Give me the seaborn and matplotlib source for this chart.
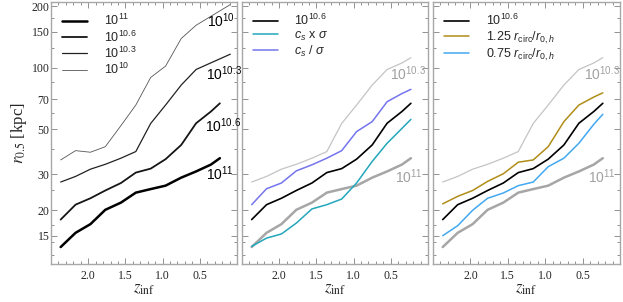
import matplotlib
matplotlib.use('Agg')
import matplotlib.pyplot as plt
import seaborn as sns
from matplotlib.ticker import FixedLocator, NullFormatter, FixedFormatter, MultipleLocator

# redshift of infall (snapshots) and radii r_0.5 [kpc]
z = [2.37, 2.17, 1.97, 1.77, 1.56, 1.36, 1.16, 0.96, 0.75, 0.55, 0.35, 0.23]
z_low = [2.37, 2.17, 1.97, 1.77, 1.56, 1.36, 1.16, 0.96, 0.75, 0.55, 0.09]

r_11 = [13.2, 15.5, 17.1, 20.1, 21.8, 24.4, 25.4, 26.4, 28.9, 31.0, 33.5, 36.0]
r_106 = [18.0, 21.3, 22.9, 25.0, 27.2, 30.6, 32.0, 35.6, 41.8, 53.4, 61.0, 66.9]
r_103 = [27.5, 29.3, 31.8, 33.6, 36.0, 38.8, 53.3, 65.6, 82.2, 98.0, 105.5, 112.0]
r_103_low = [27.5, 29.3, 31.8, 33.6, 36.0, 38.8, 53.3, 65.6, 82.2, 98.0, 116.5]
r_10_low = [35.3, 39.2, 38.5, 41.0, 52.0, 65.6, 89.6, 101.8, 139.0, 161.5, 204.0]

r_cs_x = [13.3, 14.6, 15.3, 17.3, 20.3, 21.3, 22.7, 27.2, 34.7, 42.6, 50.4, 55.8]
r_cs_div = [21.3, 25.5, 27.2, 31.2, 33.4, 36.0, 39.2, 48.6, 54.4, 68.1, 74.7, 78.3]
r_125 = [21.5, 23.4, 25.0, 27.7, 30.2, 34.4, 35.3, 41.0, 54.4, 65.6, 71.8, 75.3]
r_075 = [15.0, 16.8, 20.0, 22.9, 24.3, 26.4, 27.5, 32.7, 36.0, 42.6, 52.8, 59.1]

x_ticks = [2.0, 1.5, 1.0, 0.5]
x_labels = ['2.0', '1.5', '1.0', '0.5']
y_ticks = [15, 20, 30, 50, 70, 100, 150, 200]
y_labels = ['15', '20', '30', '50', '70', '100', '150', '200']
y_minor = [12, 14, 17, 25, 40, 60, 85, 125, 175]

sns.set_style("ticks")
plt.rcParams['font.family'] = ['Liberation Sans', 'DejaVu Sans']
plt.rcParams['mathtext.fontset'] = 'custom'
plt.rcParams['mathtext.rm'] = 'Liberation Sans'
plt.rcParams['mathtext.it'] = 'Liberation Sans:italic'
plt.rcParams['mathtext.bf'] = 'Liberation Sans:bold'

SPINE = '#a8a8a8'


def style_axis(ax, show_ylabels):
    ax.set_yscale('log')
    ax.set_xlim(2.5, 0.0)
    ax.set_ylim(10.9, 210)
    ax.xaxis.set_major_locator(FixedLocator(x_ticks))
    ax.xaxis.set_major_formatter(FixedFormatter(x_labels))
    ax.xaxis.set_minor_locator(MultipleLocator(0.1))
    ax.yaxis.set_major_locator(FixedLocator(y_ticks))
    ax.yaxis.set_minor_locator(FixedLocator(y_minor))
    ax.yaxis.set_minor_formatter(NullFormatter())
    if show_ylabels:
        ax.yaxis.set_major_formatter(FixedFormatter(y_labels))
    else:
        ax.yaxis.set_major_formatter(NullFormatter())
    ax.tick_params(which='both', direction='in', top=True, right=True,
                   color='#808080', width=0.6)
    ax.tick_params(which='major', length=4)
    ax.tick_params(which='minor', length=2)
    ax.tick_params(axis='x', pad=4)
    ax.tick_params(axis='y', pad=1)
    for lab in ax.get_xticklabels() + ax.get_yticklabels():
        lab.set_fontfamily('Liberation Serif')
        lab.set_fontsize(8.5)
    for sp in ax.spines.values():
        sp.set_color(SPINE)
        sp.set_linewidth(1.0)
    ax.set_xlabel(r'$z_{\rm inf}$', fontsize=12, math_fontfamily='stix', labelpad=0)
    ax.set_ylabel('')


def line(ax, x, y, color, lw):
    sns.lineplot(x=x, y=y, ax=ax, color=color, linewidth=lw, sort=False)
    return ax.lines[-1]


leg_kw = dict(loc='upper left', frameon=False, fontsize=9, handlelength=2.0,
              handletextpad=1.3, labelspacing=0.08, borderaxespad=0.5)
lab_kw = dict(fontsize=10, ha='left', va='baseline')

fig = plt.figure(figsize=(6.23, 3.02), dpi=100)
W, H = 623.0, 302.0
ax1 = fig.add_axes([51 / W, 38 / H, 186 / W, 262 / H])
ax2 = fig.add_axes([242 / W, 38 / H, 186 / W, 262 / H])
ax3 = fig.add_axes([433 / W, 38 / H, 187 / W, 262 / H])

# panel 1: halo mass bins
h1 = line(ax1, z, r_11, '#000000', 1.8)
h2 = line(ax1, z, r_106, '#151515', 1.3)
h3 = line(ax1, z_low, r_103_low, '#222222', 0.9)
h4 = line(ax1, z_low, r_10_low, '#555555', 0.6)
ax1.legend([h1, h2, h3, h4], [r'$10^{11}$', r'$10^{10.6}$', r'$10^{10.3}$', r'$10^{10}$'],
           **leg_kw)
ax1.text(0.40, 158, r'$10^{10}$', color='black', **lab_kw)
ax1.text(0.41, 86.9, r'$10^{10.3}$', color='black', **lab_kw)
ax1.text(0.43, 48.4, r'$10^{10.6}$', color='black', **lab_kw)
ax1.text(0.41, 28.2, r'$10^{11}$', color='black', **lab_kw)
style_axis(ax1, True)
ax1.set_ylabel(r'$r_{0.5}$ [kpc]', fontsize=12, fontfamily='Liberation Serif',
               math_fontfamily='stix', labelpad=2)

# panel 2: sound speed variations
line(ax2, z, r_103, '#c4c4c4', 0.9)
line(ax2, z, r_11, '#a6a6a6', 1.8)
g1 = line(ax2, z, r_106, '#000000', 1.2)
g2 = line(ax2, z, r_cs_x, '#22a7bb', 1.1)
g3 = line(ax2, z, r_cs_div, '#7474ee', 1.1)
ax2.legend([g1, g2, g3], [r'$10^{10.6}$', r'$c_s$ x $\sigma$', r'$c_s$ / $\sigma$'],
           **leg_kw)
ax2.text(0.51, 86.9, r'$10^{10.3}$', color='#a0a0a0', **lab_kw)
ax2.text(0.44, 27.3, r'$10^{11}$', color='#a0a0a0', **lab_kw)
style_axis(ax2, False)

# panel 3: circularisation radius variations
line(ax3, z, r_103, '#c4c4c4', 0.9)
line(ax3, z, r_11, '#a6a6a6', 1.8)
k1 = line(ax3, z, r_106, '#000000', 1.2)
k2 = line(ax3, z, r_125, '#b08d18', 1.1)
k3 = line(ax3, z, r_075, '#42a8f0', 1.1)
ax3.legend([k1, k2, k3], [r'$10^{10.6}$', r'1.25 $r_{\rm circ}/r_{0,h}$',
                          r'0.75 $r_{\rm circ}/r_{0,h}$'], **leg_kw)
ax3.text(0.48, 86.9, r'$10^{10.3}$', color='#a0a0a0', **lab_kw)
ax3.text(0.43, 27.3, r'$10^{11}$', color='#a0a0a0', **lab_kw)
style_axis(ax3, False)

fig.savefig('out.png', dpi=100)
